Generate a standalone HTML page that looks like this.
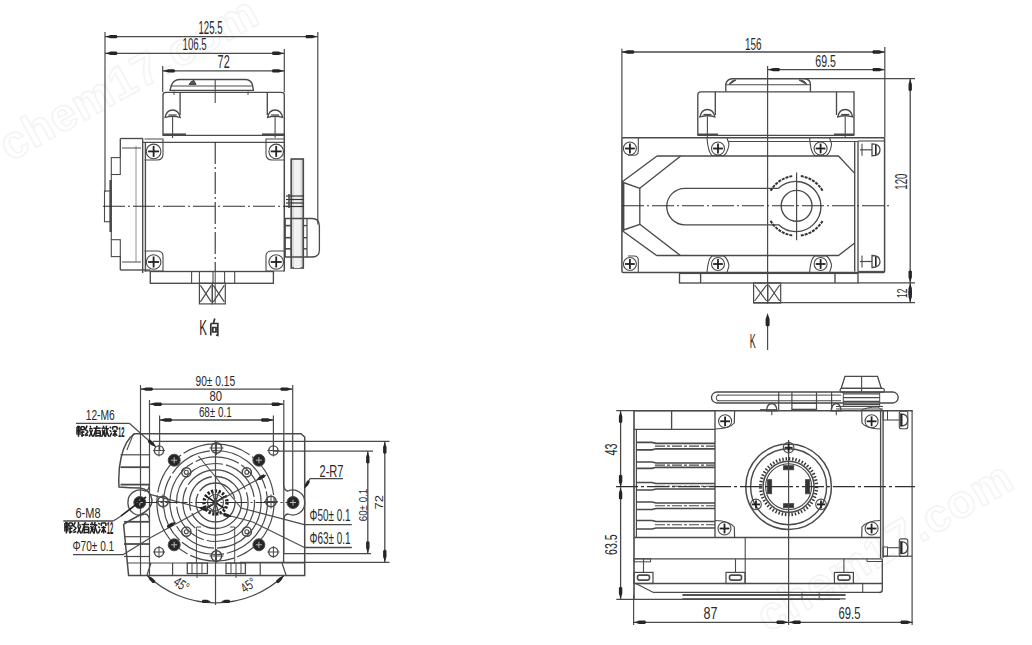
<!DOCTYPE html>
<html><head><meta charset="utf-8"><style>
html,body{margin:0;padding:0;background:#fff;}
svg{display:block;font-family:"Liberation Sans",sans-serif;}
#wrap{width:1032px;height:645px;overflow:hidden;background:#fff;}
</style></head><body><div id="wrap">
<svg width="1032" height="645" viewBox="0 0 1032 645">
<rect width="1032" height="645" fill="#fff"/>
<text transform="translate(10,162) rotate(-29)" font-size="46" font-weight="bold" fill="none" stroke="#f3f3f3" stroke-width="1.4" letter-spacing="1">chem17.com</text>
<text transform="translate(768,633) rotate(-30.5)" font-size="46" font-weight="bold" fill="none" stroke="#f3f3f3" stroke-width="1.4" letter-spacing="1">chem17.com</text>
<line x1="105.0" y1="32.0" x2="105.0" y2="192.0" stroke="#4a4a4a" stroke-width="1.2" />
<line x1="317.8" y1="32.0" x2="317.8" y2="224.6" stroke="#4a4a4a" stroke-width="1.2" />
<line x1="284.3" y1="49.0" x2="284.3" y2="92.0" stroke="#4a4a4a" stroke-width="1.2" />
<line x1="162.7" y1="66.0" x2="162.7" y2="92.0" stroke="#4a4a4a" stroke-width="1.2" />
<line x1="105.0" y1="36.6" x2="317.8" y2="36.6" stroke="#4a4a4a" stroke-width="1.3" />
<polygon points="105.0,36.6 108.3,35.7 110.5,34.9 116.5,34.9 117.7,36.6 116.5,38.3 110.5,38.3 108.3,37.5" fill="#262626"/>
<polygon points="317.8,36.6 314.5,37.5 312.3,38.3 306.2,38.3 305.2,36.6 306.2,34.9 312.3,34.9 314.5,35.7" fill="#262626"/>
<text x="198.5" y="33.6" textLength="24.0" lengthAdjust="spacingAndGlyphs" font-size="17.6" fill="#2a2a2a">125.5</text>
<line x1="105.0" y1="53.3" x2="284.3" y2="53.3" stroke="#4a4a4a" stroke-width="1.3" />
<polygon points="105.0,53.3 108.3,52.4 110.5,51.6 116.5,51.6 117.7,53.3 116.5,55.0 110.5,55.0 108.3,54.2" fill="#262626"/>
<polygon points="284.3,53.3 281.0,54.2 278.8,55.0 272.8,55.0 271.7,53.3 272.8,51.6 278.8,51.6 281.0,52.4" fill="#262626"/>
<text x="182.5" y="50.4" textLength="24.2" lengthAdjust="spacingAndGlyphs" font-size="16.9" fill="#2a2a2a">106.5</text>
<line x1="162.7" y1="70.9" x2="284.3" y2="70.9" stroke="#4a4a4a" stroke-width="1.3" />
<polygon points="162.7,70.9 166.0,70.0 168.2,69.2 174.2,69.2 175.3,70.9 174.2,72.6 168.2,72.6 166.0,71.8" fill="#262626"/>
<polygon points="284.3,70.9 281.0,71.8 278.8,72.6 272.8,72.6 271.7,70.9 272.8,69.2 278.8,69.2 281.0,70.0" fill="#262626"/>
<text x="217.6" y="68.0" textLength="12.1" lengthAdjust="spacingAndGlyphs" font-size="17.5" fill="#2a2a2a">72</text>
<path d="M170,90.4 L171.5,85 Q174,79.5 180,79.5 L245,79.5 Q251,79.5 252.5,85 L253.4,90.4 Z" fill="none" stroke="#4a4a4a" stroke-width="1.35" />
<line x1="170.5" y1="86.0" x2="253.0" y2="86.0" stroke="#4a4a4a" stroke-width="1.1" />
<line x1="174.0" y1="91.5" x2="174.0" y2="95.0" stroke="#4a4a4a" stroke-width="1.0" />
<line x1="248.0" y1="91.5" x2="248.0" y2="95.0" stroke="#4a4a4a" stroke-width="1.0" />
<path d="M189,84.5 Q191,80.5 194,80.5 L196,84.5 Z" fill="#555" stroke="#4a4a4a" stroke-width="1.0" />
<line x1="215.2" y1="80.0" x2="215.2" y2="103.0" stroke="#4a4a4a" stroke-width="1.1" />
<path d="M163,136 L163,95 Q163,92.4 166,92.4 L281.5,92.4 Q284.3,92.4 284.3,95 L284.3,136" fill="none" stroke="#4a4a4a" stroke-width="1.35" />
<line x1="180.1" y1="92.4" x2="180.1" y2="115.0" stroke="#4a4a4a" stroke-width="1.35" />
<line x1="267.3" y1="92.4" x2="267.3" y2="115.0" stroke="#4a4a4a" stroke-width="1.35" />
<path d="M165.1,117.5 Q166.6,110.0 172.6,110.0 Q178.6,110.0 180.1,117.5 Q172.6,115.0 165.1,117.5 Z" fill="none" stroke="#4a4a4a" stroke-width="1.3" />
<line x1="168.6" y1="115.0" x2="176.6" y2="115.0" stroke="#4a4a4a" stroke-width="1.2" />
<line x1="172.6" y1="117.0" x2="172.6" y2="138.0" stroke="#4a4a4a" stroke-width="1.1" />
<path d="M267.6,117.5 Q269.1,110.0 275.1,110.0 Q281.1,110.0 282.6,117.5 Q275.1,115.0 267.6,117.5 Z" fill="none" stroke="#4a4a4a" stroke-width="1.3" />
<line x1="271.1" y1="115.0" x2="279.1" y2="115.0" stroke="#4a4a4a" stroke-width="1.2" />
<line x1="275.1" y1="117.0" x2="275.1" y2="138.0" stroke="#4a4a4a" stroke-width="1.1" />
<line x1="163.0" y1="135.3" x2="284.3" y2="135.3" stroke="#4a4a4a" stroke-width="1.35" />
<line x1="163.0" y1="134.3" x2="186.0" y2="134.3" stroke="#4a4a4a" stroke-width="1.8" />
<line x1="262.0" y1="134.3" x2="284.3" y2="134.3" stroke="#4a4a4a" stroke-width="1.8" />
<line x1="120.3" y1="138.5" x2="143.0" y2="138.5" stroke="#4a4a4a" stroke-width="1.35" />
<line x1="143.0" y1="142.3" x2="284.3" y2="142.3" stroke="#4a4a4a" stroke-width="1.35" />
<line x1="284.3" y1="135.3" x2="284.3" y2="271.5" stroke="#4a4a4a" stroke-width="1.5" />
<line x1="142.7" y1="138.5" x2="142.7" y2="273.0" stroke="#4a4a4a" stroke-width="1.35" />
<line x1="145.4" y1="142.3" x2="145.4" y2="271.5" stroke="#4a4a4a" stroke-width="1.35" />
<line x1="120.3" y1="138.5" x2="120.3" y2="157.6" stroke="#4a4a4a" stroke-width="1.35" />
<line x1="120.3" y1="256.0" x2="120.3" y2="270.0" stroke="#4a4a4a" stroke-width="1.35" />
<line x1="120.3" y1="270.0" x2="150.3" y2="270.0" stroke="#4a4a4a" stroke-width="1.35" />
<line x1="136.0" y1="146.0" x2="136.0" y2="262.0" stroke="#888" stroke-width="0.9" />
<line x1="122.0" y1="148.0" x2="141.0" y2="148.0" stroke="#4a4a4a" stroke-width="1.0" />
<line x1="122.0" y1="262.0" x2="141.0" y2="262.0" stroke="#4a4a4a" stroke-width="1.0" />
<rect x="111.3" y="157.6" width="9.0" height="16.9" rx="0" fill="none" stroke="#4a4a4a" stroke-width="1.1"/>
<rect x="111.3" y="239.7" width="9.0" height="16.9" rx="0" fill="none" stroke="#4a4a4a" stroke-width="1.1"/>
<line x1="111.3" y1="174.5" x2="111.3" y2="239.7" stroke="#4a4a4a" stroke-width="1.1" />
<rect x="104.5" y="191.0" width="5.8" height="30.7" rx="0" fill="none" stroke="#4a4a4a" stroke-width="1.1"/>
<line x1="110.6" y1="180.0" x2="110.6" y2="232.0" stroke="#4a4a4a" stroke-width="2.4" />
<line x1="103.0" y1="206.3" x2="292.0" y2="206.3" stroke="#303030" stroke-width="1.1" stroke-dasharray="22,3,2,3"/>
<line x1="215.2" y1="142.0" x2="215.2" y2="271.0" stroke="#303030" stroke-width="1.1" stroke-dasharray="22,3,2,3"/>
<line x1="215.2" y1="271.0" x2="215.2" y2="304.0" stroke="#4a4a4a" stroke-width="1.0" />
<circle cx="153.6" cy="151.4" r="7.3" fill="none" stroke="#4a4a4a" stroke-width="1.1"/>
<line x1="148.1" y1="151.4" x2="159.1" y2="151.4" stroke="#222" stroke-width="1.8" />
<line x1="153.6" y1="145.9" x2="153.6" y2="156.9" stroke="#222" stroke-width="1.8" />
<circle cx="276.2" cy="151.4" r="7.3" fill="none" stroke="#4a4a4a" stroke-width="1.1"/>
<line x1="270.7" y1="151.4" x2="281.7" y2="151.4" stroke="#222" stroke-width="1.8" />
<line x1="276.2" y1="145.9" x2="276.2" y2="156.9" stroke="#222" stroke-width="1.8" />
<circle cx="153.6" cy="262.0" r="7.3" fill="none" stroke="#4a4a4a" stroke-width="1.1"/>
<line x1="148.1" y1="262.0" x2="159.1" y2="262.0" stroke="#222" stroke-width="1.8" />
<line x1="153.6" y1="256.5" x2="153.6" y2="267.5" stroke="#222" stroke-width="1.8" />
<circle cx="276.2" cy="262.0" r="7.3" fill="none" stroke="#4a4a4a" stroke-width="1.1"/>
<line x1="270.7" y1="262.0" x2="281.7" y2="262.0" stroke="#222" stroke-width="1.8" />
<line x1="276.2" y1="256.5" x2="276.2" y2="267.5" stroke="#222" stroke-width="1.8" />
<path d="M144.5,139 L163,139 L163,154 Q163,160 157,160 L144.5,160" fill="none" stroke="#4a4a4a" stroke-width="1.1" />
<path d="M284,139 L266,139 L266,154 Q266,160 272,160 L284,160" fill="none" stroke="#4a4a4a" stroke-width="1.1" />
<path d="M144.5,271 L163,271 L163,256 Q163,251 157,251 L144.5,251" fill="none" stroke="#4a4a4a" stroke-width="1.1" />
<path d="M284,271 L266,271 L266,256 Q266,251 272,251 L284,251" fill="none" stroke="#4a4a4a" stroke-width="1.1" />
<rect x="291.2" y="159.0" width="12.1" height="109.0" rx="0" fill="#d8d8d8" stroke="#4a4a4a" stroke-width="1.6"/>
<rect x="294.0" y="160.0" width="6.5" height="107.0" rx="0" fill="#f2f2f2" stroke="none" stroke-width="0"/>
<line x1="286.0" y1="196.0" x2="303.5" y2="196.0" stroke="#333" stroke-width="1.2" />
<line x1="286.0" y1="199.5" x2="303.5" y2="199.5" stroke="#333" stroke-width="1.2" />
<line x1="286.0" y1="203.0" x2="303.5" y2="203.0" stroke="#333" stroke-width="1.2" />
<line x1="286.0" y1="206.5" x2="303.5" y2="206.5" stroke="#333" stroke-width="1.2" />
<line x1="289.0" y1="194.0" x2="289.0" y2="208.0" stroke="#4a4a4a" stroke-width="1.6" />
<path d="M285,218.5 L312,218.5 Q319.4,218.5 319.4,226 L319.4,250 Q319.4,257 312,257 L285,257 Z" fill="none" stroke="#4a4a4a" stroke-width="1.3" />
<line x1="285.0" y1="218.5" x2="285.0" y2="257.0" stroke="#4a4a4a" stroke-width="1.3" />
<line x1="291.2" y1="218.5" x2="291.2" y2="257.0" stroke="#4a4a4a" stroke-width="1.2" />
<line x1="303.3" y1="218.5" x2="303.3" y2="257.0" stroke="#4a4a4a" stroke-width="1.2" />
<line x1="307.0" y1="218.5" x2="307.0" y2="257.0" stroke="#4a4a4a" stroke-width="1.2" />
<line x1="285.0" y1="225.6" x2="291.2" y2="225.6" stroke="#4a4a4a" stroke-width="1.6" />
<line x1="303.3" y1="225.6" x2="307.0" y2="225.6" stroke="#4a4a4a" stroke-width="1.4" />
<line x1="285.0" y1="237.7" x2="291.2" y2="237.7" stroke="#4a4a4a" stroke-width="1.6" />
<line x1="303.3" y1="237.7" x2="307.0" y2="237.7" stroke="#4a4a4a" stroke-width="1.4" />
<line x1="285.0" y1="248.8" x2="291.2" y2="248.8" stroke="#4a4a4a" stroke-width="1.6" />
<line x1="303.3" y1="248.8" x2="307.0" y2="248.8" stroke="#4a4a4a" stroke-width="1.4" />
<rect x="294.0" y="258.0" width="6.5" height="10.0" rx="0" fill="#f2f2f2" stroke="none" stroke-width="0"/>
<rect x="150.3" y="271.5" width="123.1" height="11.8" rx="0" fill="none" stroke="#4a4a4a" stroke-width="1.35"/>
<line x1="191.6" y1="271.5" x2="191.6" y2="283.3" stroke="#4a4a4a" stroke-width="1.1" />
<line x1="199.4" y1="271.5" x2="199.4" y2="283.3" stroke="#4a4a4a" stroke-width="1.1" />
<line x1="213.0" y1="271.5" x2="213.0" y2="283.3" stroke="#4a4a4a" stroke-width="1.1" />
<line x1="224.6" y1="271.5" x2="224.6" y2="283.3" stroke="#4a4a4a" stroke-width="1.1" />
<line x1="234.7" y1="271.5" x2="234.7" y2="283.3" stroke="#4a4a4a" stroke-width="1.1" />
<rect x="199.4" y="283.3" width="12.9" height="20.6" rx="0" fill="none" stroke="#4a4a4a" stroke-width="1.2"/>
<line x1="200.4" y1="285.3" x2="211.3" y2="301.9" stroke="#4a4a4a" stroke-width="1.2" />
<line x1="200.4" y1="301.9" x2="211.3" y2="285.3" stroke="#4a4a4a" stroke-width="1.2" />
<rect x="212.3" y="283.3" width="13.0" height="20.6" rx="0" fill="none" stroke="#4a4a4a" stroke-width="1.2"/>
<line x1="213.3" y1="285.3" x2="224.3" y2="301.9" stroke="#4a4a4a" stroke-width="1.2" />
<line x1="213.3" y1="301.9" x2="224.3" y2="285.3" stroke="#4a4a4a" stroke-width="1.2" />
<text x="199.3" y="335.3" textLength="7.7" lengthAdjust="spacingAndGlyphs" font-size="21.4" fill="#2a2a2a">K</text>
<path d="M210.8,323.5 L210.8,335.5 M210.8,323.5 L217.8,323.5 L217.8,335.5 L216,335 M212.8,327.5 L216,327.5 L216,332 L212.8,332 Z M214.8,318.5 L213.3,323.5" fill="none" stroke="#333" stroke-width="1.7" />
<line x1="621.9" y1="48.8" x2="621.9" y2="138.0" stroke="#4a4a4a" stroke-width="1.2" />
<line x1="884.8" y1="47.0" x2="884.8" y2="138.0" stroke="#4a4a4a" stroke-width="1.2" />
<line x1="621.9" y1="52.0" x2="884.8" y2="52.0" stroke="#4a4a4a" stroke-width="1.3" />
<polygon points="621.9,52.0 625.2,51.1 627.4,50.3 633.4,50.3 634.5,52.0 633.4,53.7 627.4,53.7 625.2,52.9" fill="#262626"/>
<polygon points="884.8,52.0 881.5,52.9 879.3,53.7 873.2,53.7 872.1,52.0 873.2,50.3 879.3,50.3 881.5,51.1" fill="#262626"/>
<text x="745.0" y="49.8" textLength="16.5" lengthAdjust="spacingAndGlyphs" font-size="16.3" fill="#2a2a2a">156</text>
<line x1="767.6" y1="69.6" x2="884.8" y2="69.6" stroke="#4a4a4a" stroke-width="1.3" />
<polygon points="767.6,69.6 770.9,68.7 773.1,67.9 779.1,67.9 780.2,69.6 779.1,71.3 773.1,71.3 770.9,70.5" fill="#262626"/>
<polygon points="884.8,69.6 881.5,70.5 879.3,71.3 873.2,71.3 872.1,69.6 873.2,67.9 879.3,67.9 881.5,68.7" fill="#262626"/>
<text x="815.3" y="67.2" textLength="20.6" lengthAdjust="spacingAndGlyphs" font-size="17.0" fill="#2a2a2a">69.5</text>
<line x1="767.6" y1="66.0" x2="767.6" y2="303.0" stroke="#4a4a4a" stroke-width="1.2" />
<path d="M725.8,91.8 L725.8,84 Q727,78.7 733,78.7 L804,78.7 Q810,78.7 810.4,84 L810.4,91.8" fill="none" stroke="#4a4a4a" stroke-width="1.35" />
<line x1="725.8" y1="84.8" x2="810.4" y2="84.8" stroke="#4a4a4a" stroke-width="1.1" />
<path d="M729,84.8 Q731,80 736,80 Z M799,80 Q805,80 807,84.8 Z" fill="#555" stroke="#4a4a4a" stroke-width="1.0" />
<line x1="804.0" y1="78.7" x2="915.0" y2="78.7" stroke="#4a4a4a" stroke-width="1.2" />
<line x1="910.2" y1="78.7" x2="910.2" y2="282.8" stroke="#4a4a4a" stroke-width="1.3" />
<polygon points="910.2,78.7 911.1,82.0 911.9,84.2 911.9,90.2 910.2,91.3 908.5,90.2 908.5,84.2 909.3,82.0" fill="#262626"/>
<polygon points="910.2,282.8 909.3,279.5 908.5,277.3 908.5,271.2 910.2,270.2 911.9,271.2 911.9,277.3 911.1,279.5" fill="#262626"/>
<text transform="translate(907.2,189.7) rotate(-90)" x="0" y="0" textLength="16.1" lengthAdjust="spacingAndGlyphs" font-size="15.6" fill="#2a2a2a">120</text>
<path d="M697.8,135.4 L697.8,95 Q697.8,91.8 701,91.8 L854,91.8 L854,135.4" fill="none" stroke="#4a4a4a" stroke-width="1.35" />
<line x1="715.3" y1="91.8" x2="715.3" y2="115.0" stroke="#4a4a4a" stroke-width="1.35" />
<line x1="836.5" y1="91.8" x2="836.5" y2="115.0" stroke="#4a4a4a" stroke-width="1.35" />
<path d="M699.9,117 Q701.4,109.5 707.4,109.5 Q713.4,109.5 714.9,117 Q707.4,114.5 699.9,117 Z" fill="none" stroke="#4a4a4a" stroke-width="1.3" />
<line x1="703.4" y1="114.5" x2="711.4" y2="114.5" stroke="#4a4a4a" stroke-width="1.2" />
<line x1="707.4" y1="116.5" x2="707.4" y2="137.0" stroke="#4a4a4a" stroke-width="1.1" />
<path d="M837.7,117 Q839.2,109.5 845.2,109.5 Q851.2,109.5 852.7,117 Q845.2,114.5 837.7,117 Z" fill="none" stroke="#4a4a4a" stroke-width="1.3" />
<line x1="841.2" y1="114.5" x2="849.2" y2="114.5" stroke="#4a4a4a" stroke-width="1.2" />
<line x1="845.2" y1="116.5" x2="845.2" y2="137.0" stroke="#4a4a4a" stroke-width="1.1" />
<line x1="697.8" y1="135.4" x2="854.0" y2="135.4" stroke="#4a4a4a" stroke-width="1.35" />
<line x1="697.8" y1="134.4" x2="718.0" y2="134.4" stroke="#4a4a4a" stroke-width="1.8" />
<line x1="834.0" y1="134.4" x2="854.0" y2="134.4" stroke="#4a4a4a" stroke-width="1.8" />
<rect x="621.9" y="137.8" width="262.7" height="134.6" rx="1.5" fill="none" stroke="#4a4a4a" stroke-width="1.5"/>
<line x1="728.0" y1="141.5" x2="858.0" y2="141.5" stroke="#4a4a4a" stroke-width="1.1" />
<polyline points="657.0,156.0 838.5,156.0 854.7,173.4" fill="none" stroke="#4a4a4a" stroke-width="1.35" stroke-linejoin="round"/>
<polyline points="657.0,255.5 838.5,255.5 854.7,243.0" fill="none" stroke="#4a4a4a" stroke-width="1.35" stroke-linejoin="round"/>
<line x1="854.7" y1="141.5" x2="854.7" y2="271.4" stroke="#4a4a4a" stroke-width="1.35" />
<line x1="858.0" y1="141.5" x2="858.0" y2="271.4" stroke="#4a4a4a" stroke-width="1.35" />
<line x1="858.0" y1="141.0" x2="884.6" y2="141.0" stroke="#4a4a4a" stroke-width="1.1" />
<line x1="858.0" y1="271.4" x2="884.6" y2="271.4" stroke="#4a4a4a" stroke-width="1.1" />
<line x1="860.0" y1="149.8" x2="872.0" y2="149.8" stroke="#4a4a4a" stroke-width="1.2" />
<line x1="862.0" y1="143.8" x2="862.0" y2="155.8" stroke="#4a4a4a" stroke-width="1.1" />
<path d="M872,143.8 Q880,143.8 880,149.8 Q880,155.8 872,155.8 Z" fill="none" stroke="#4a4a4a" stroke-width="1.3" />
<line x1="875.8" y1="144.8" x2="875.8" y2="154.8" stroke="#222" stroke-width="1.6" />
<line x1="860.0" y1="261.5" x2="872.0" y2="261.5" stroke="#4a4a4a" stroke-width="1.2" />
<line x1="862.0" y1="255.5" x2="862.0" y2="267.5" stroke="#4a4a4a" stroke-width="1.1" />
<path d="M872,255.5 Q880,255.5 880,261.5 Q880,267.5 872,267.5 Z" fill="none" stroke="#4a4a4a" stroke-width="1.3" />
<line x1="875.8" y1="256.5" x2="875.8" y2="266.5" stroke="#222" stroke-width="1.6" />
<polyline points="622.0,182.0 657.0,156.0" fill="none" stroke="#4a4a4a" stroke-width="1.35" stroke-linejoin="round"/>
<polyline points="622.0,230.5 657.0,255.8" fill="none" stroke="#4a4a4a" stroke-width="1.35" stroke-linejoin="round"/>
<polyline points="622.0,182.0 639.8,188.3 680.7,156.0" fill="none" stroke="#4a4a4a" stroke-width="1.35" stroke-linejoin="round"/>
<polyline points="622.0,230.5 639.8,224.3 680.7,255.8" fill="none" stroke="#4a4a4a" stroke-width="1.35" stroke-linejoin="round"/>
<line x1="639.8" y1="188.3" x2="639.8" y2="224.3" stroke="#4a4a4a" stroke-width="1.35" />
<line x1="623.2" y1="182.0" x2="623.2" y2="230.5" stroke="#4a4a4a" stroke-width="2.4" />
<path d="M778.6,188.3 L685,188.3 A18.2,18.2 0 0 0 685,224.8 L778.6,224.8 A25.1,25.1 0 1 0 778.6,188.3" fill="none" stroke="#4a4a4a" stroke-width="1.35" />
<line x1="622.0" y1="205.8" x2="890.0" y2="205.8" stroke="#303030" stroke-width="1.1" stroke-dasharray="22,3,2,3"/>
<circle cx="796.6" cy="205.8" r="15.4" fill="none" stroke="#4a4a4a" stroke-width="1.35"/>
<path d="M770.6,190.8 A30,30 0 0 1 792.4,176.1" fill="none" stroke="#333" stroke-width="2.0" stroke-dasharray="3,1"/>
<path d="M800.8,176.1 A30,30 0 0 1 822.6,190.8" fill="none" stroke="#333" stroke-width="2.0" stroke-dasharray="3,1"/>
<path d="M770.6,220.8 A30,30 0 0 0 792.4,235.5" fill="none" stroke="#333" stroke-width="2.0" stroke-dasharray="3,1"/>
<path d="M800.8,235.5 A30,30 0 0 0 822.6,220.8" fill="none" stroke="#333" stroke-width="2.0" stroke-dasharray="3,1"/>
<line x1="796.6" y1="172.6" x2="796.6" y2="240.3" stroke="#4a4a4a" stroke-width="1.2" />
<circle cx="629.9" cy="148.5" r="6.5" fill="none" stroke="#4a4a4a" stroke-width="1.1"/>
<line x1="625.0" y1="148.5" x2="634.8" y2="148.5" stroke="#222" stroke-width="1.8" />
<line x1="629.9" y1="143.6" x2="629.9" y2="153.4" stroke="#222" stroke-width="1.8" />
<circle cx="718.0" cy="148.5" r="6.5" fill="none" stroke="#4a4a4a" stroke-width="1.1"/>
<line x1="713.1" y1="148.5" x2="722.9" y2="148.5" stroke="#222" stroke-width="1.8" />
<line x1="718.0" y1="143.6" x2="718.0" y2="153.4" stroke="#222" stroke-width="1.8" />
<circle cx="820.6" cy="148.5" r="6.5" fill="none" stroke="#4a4a4a" stroke-width="1.1"/>
<line x1="815.7" y1="148.5" x2="825.5" y2="148.5" stroke="#222" stroke-width="1.8" />
<line x1="820.6" y1="143.6" x2="820.6" y2="153.4" stroke="#222" stroke-width="1.8" />
<circle cx="629.9" cy="264.0" r="6.5" fill="none" stroke="#4a4a4a" stroke-width="1.1"/>
<line x1="625.0" y1="264.0" x2="634.8" y2="264.0" stroke="#222" stroke-width="1.8" />
<line x1="629.9" y1="259.1" x2="629.9" y2="268.9" stroke="#222" stroke-width="1.8" />
<circle cx="718.0" cy="264.0" r="6.5" fill="none" stroke="#4a4a4a" stroke-width="1.1"/>
<line x1="713.1" y1="264.0" x2="722.9" y2="264.0" stroke="#222" stroke-width="1.8" />
<line x1="718.0" y1="259.1" x2="718.0" y2="268.9" stroke="#222" stroke-width="1.8" />
<circle cx="820.6" cy="264.0" r="6.5" fill="none" stroke="#4a4a4a" stroke-width="1.1"/>
<line x1="815.7" y1="264.0" x2="825.5" y2="264.0" stroke="#222" stroke-width="1.8" />
<line x1="820.6" y1="259.1" x2="820.6" y2="268.9" stroke="#222" stroke-width="1.8" />
<path d="M707,138 Q708,152 712,155.5 L724,155.5 Q728,152 729,144 L727,138" fill="none" stroke="#4a4a4a" stroke-width="1.1" />
<path d="M707,272.4 Q708,259 712,256 L724,256 Q728,259 729,266 L727,272.4" fill="none" stroke="#4a4a4a" stroke-width="1.1" />
<path d="M809.6,138 Q810.6,152 814.6,155.5 L826.6,155.5 Q830.6,152 831.6,144 L829.6,138" fill="none" stroke="#4a4a4a" stroke-width="1.1" />
<path d="M809.6,272.4 Q810.6,259 814.6,256 L826.6,256 Q830.6,259 831.6,266 L829.6,272.4" fill="none" stroke="#4a4a4a" stroke-width="1.1" />
<path d="M638.3,138 L638.3,151 Q638.3,155.2 634,155.2 L628,155.2" fill="none" stroke="#4a4a4a" stroke-width="1.1" />
<path d="M638.3,272.4 L638.3,260 Q638.3,256 634,256 L628,256" fill="none" stroke="#4a4a4a" stroke-width="1.1" />
<rect x="679.5" y="273.4" width="178.5" height="9.6" rx="0" fill="none" stroke="#4a4a4a" stroke-width="1.35"/>
<line x1="700.6" y1="273.4" x2="700.6" y2="283.0" stroke="#4a4a4a" stroke-width="1.35" />
<line x1="835.0" y1="273.4" x2="835.0" y2="283.0" stroke="#4a4a4a" stroke-width="1.35" />
<line x1="858.0" y1="282.8" x2="915.0" y2="282.8" stroke="#4a4a4a" stroke-width="1.2" />
<rect x="753.6" y="283.0" width="14.0" height="20.0" rx="0" fill="none" stroke="#4a4a4a" stroke-width="1.2"/>
<line x1="754.6" y1="285.0" x2="766.6" y2="301.0" stroke="#4a4a4a" stroke-width="1.2" />
<line x1="754.6" y1="301.0" x2="766.6" y2="285.0" stroke="#4a4a4a" stroke-width="1.2" />
<rect x="767.6" y="283.0" width="13.1" height="20.0" rx="0" fill="none" stroke="#4a4a4a" stroke-width="1.2"/>
<line x1="768.6" y1="285.0" x2="779.7" y2="301.0" stroke="#4a4a4a" stroke-width="1.2" />
<line x1="768.6" y1="301.0" x2="779.7" y2="285.0" stroke="#4a4a4a" stroke-width="1.2" />
<line x1="753.6" y1="302.6" x2="915.0" y2="302.6" stroke="#4a4a4a" stroke-width="1.2" />
<line x1="910.2" y1="282.8" x2="910.2" y2="302.6" stroke="#4a4a4a" stroke-width="1.3" />
<polygon points="910.2,282.8 911.1,286.1 911.9,288.3 911.9,294.4 910.2,295.4 908.5,294.4 908.5,288.3 909.3,286.1" fill="#262626"/>
<polygon points="910.2,302.6 909.3,299.3 908.5,297.1 908.5,291.1 910.2,290.0 911.9,291.1 911.9,297.1 911.1,299.3" fill="#262626"/>
<text transform="translate(907.0,298.0) rotate(-90)" x="0" y="0" textLength="9.5" lengthAdjust="spacingAndGlyphs" font-size="15.4" fill="#2a2a2a">12</text>
<line x1="767.6" y1="318.0" x2="767.6" y2="350.0" stroke="#4a4a4a" stroke-width="1.2" />
<polygon points="767.6,313.0 768.7,316.6 769.6,319.0 769.6,325.6 767.6,326.8 765.6,325.6 765.6,319.0 766.5,316.6" fill="#262626"/>
<text x="749.8" y="348.2" textLength="6.0" lengthAdjust="spacingAndGlyphs" font-size="19.8" fill="#2a2a2a">K</text>
<line x1="140.5" y1="385.0" x2="140.5" y2="575.5" stroke="#4a4a4a" stroke-width="1.2" />
<line x1="292.7" y1="385.0" x2="292.7" y2="503.0" stroke="#4a4a4a" stroke-width="1.2" />
<line x1="140.5" y1="389.1" x2="292.7" y2="389.1" stroke="#4a4a4a" stroke-width="1.3" />
<polygon points="140.5,389.1 143.8,388.2 146.0,387.4 152.1,387.4 153.2,389.1 152.1,390.8 146.0,390.8 143.8,390.0" fill="#262626"/>
<polygon points="292.7,389.1 289.4,390.0 287.2,390.8 281.1,390.8 280.1,389.1 281.1,387.4 287.2,387.4 289.4,388.2" fill="#262626"/>
<text x="195.5" y="386.0" textLength="39.7" lengthAdjust="spacingAndGlyphs" font-size="14.7" fill="#2a2a2a">90± 0.15</text>
<line x1="149.5" y1="400.0" x2="149.5" y2="575.5" stroke="#4a4a4a" stroke-width="1.2" />
<line x1="283.8" y1="400.0" x2="283.8" y2="553.0" stroke="#4a4a4a" stroke-width="1.2" />
<line x1="149.5" y1="404.2" x2="283.8" y2="404.2" stroke="#4a4a4a" stroke-width="1.3" />
<polygon points="149.5,404.2 152.8,403.3 155.0,402.5 161.1,402.5 162.2,404.2 161.1,405.9 155.0,405.9 152.8,405.1" fill="#262626"/>
<polygon points="283.8,404.2 280.5,405.1 278.3,405.9 272.2,405.9 271.2,404.2 272.2,402.5 278.3,402.5 280.5,403.3" fill="#262626"/>
<text x="209.5" y="400.8" textLength="12.6" lengthAdjust="spacingAndGlyphs" font-size="14.7" fill="#2a2a2a">80</text>
<line x1="159.6" y1="415.6" x2="159.6" y2="451.0" stroke="#4a4a4a" stroke-width="1.2" />
<line x1="273.4" y1="415.6" x2="273.4" y2="451.0" stroke="#4a4a4a" stroke-width="1.2" />
<line x1="159.6" y1="420.0" x2="273.4" y2="420.0" stroke="#4a4a4a" stroke-width="1.3" />
<polygon points="159.6,420.0 162.9,419.1 165.1,418.3 171.2,418.3 172.2,420.0 171.2,421.7 165.1,421.7 162.9,420.9" fill="#262626"/>
<polygon points="273.4,420.0 270.1,420.9 267.9,421.7 261.8,421.7 260.8,420.0 261.8,418.3 267.9,418.3 270.1,419.1" fill="#262626"/>
<text x="198.9" y="416.5" textLength="32.8" lengthAdjust="spacingAndGlyphs" font-size="14.7" fill="#2a2a2a">68± 0.1</text>
<text x="85.7" y="420.3" textLength="29.1" lengthAdjust="spacingAndGlyphs" font-size="15.5" fill="#2a2a2a">12-M6</text>
<line x1="76.0" y1="423.3" x2="129.3" y2="423.3" stroke="#4a4a4a" stroke-width="1.3" />
<line x1="129.3" y1="423.3" x2="156.0" y2="447.0" stroke="#4a4a4a" stroke-width="1.2" />
<polygon points="156.0,447.0 153.4,445.9 151.5,445.3 147.8,441.9 148.3,440.1 150.1,439.4 153.8,442.7 154.6,444.5" fill="#262626"/>
<line x1="77.0" y1="426.7" x2="80.0" y2="426.7" stroke="#202020" stroke-width="1.5" />
<line x1="77.0" y1="426.7" x2="77.0" y2="434.8" stroke="#202020" stroke-width="1.5" />
<line x1="80.0" y1="426.7" x2="80.0" y2="434.8" stroke="#202020" stroke-width="1.5" />
<line x1="77.0" y1="430.7" x2="80.0" y2="430.7" stroke="#202020" stroke-width="1.5" />
<line x1="78.5" y1="425.7" x2="78.5" y2="436.8" stroke="#202020" stroke-width="1.5" />
<line x1="81.0" y1="426.7" x2="84.4" y2="426.7" stroke="#202020" stroke-width="1.5" />
<line x1="81.0" y1="429.7" x2="84.4" y2="429.7" stroke="#202020" stroke-width="1.5" />
<line x1="81.0" y1="426.7" x2="81.0" y2="429.7" stroke="#202020" stroke-width="1.5" />
<line x1="84.4" y1="426.7" x2="84.4" y2="429.7" stroke="#202020" stroke-width="1.5" />
<line x1="81.0" y1="432.7" x2="84.4" y2="431.7" stroke="#202020" stroke-width="1.5" />
<line x1="82.2" y1="430.7" x2="82.2" y2="436.8" stroke="#202020" stroke-width="1.5" />
<line x1="81.0" y1="435.8" x2="84.4" y2="434.8" stroke="#202020" stroke-width="1.5" />
<line x1="87.2" y1="425.7" x2="85.2" y2="429.7" stroke="#202020" stroke-width="1.5" />
<line x1="85.2" y1="429.7" x2="88.2" y2="431.7" stroke="#202020" stroke-width="1.5" />
<line x1="88.2" y1="431.7" x2="85.2" y2="434.7" stroke="#202020" stroke-width="1.5" />
<line x1="85.2" y1="435.8" x2="88.2" y2="434.8" stroke="#202020" stroke-width="1.5" />
<line x1="90.4" y1="425.7" x2="90.4" y2="427.7" stroke="#202020" stroke-width="1.5" />
<line x1="89.2" y1="428.7" x2="92.6" y2="428.7" stroke="#202020" stroke-width="1.5" />
<line x1="89.7" y1="429.7" x2="92.6" y2="436.8" stroke="#202020" stroke-width="1.5" />
<line x1="92.6" y1="429.7" x2="89.2" y2="436.8" stroke="#202020" stroke-width="1.5" />
<line x1="93.4" y1="428.2" x2="100.7" y2="428.2" stroke="#202020" stroke-width="1.5" />
<line x1="97.1" y1="425.7" x2="93.4" y2="436.8" stroke="#202020" stroke-width="1.5" />
<line x1="95.9" y1="430.7" x2="100.2" y2="430.7" stroke="#202020" stroke-width="1.5" />
<line x1="95.9" y1="430.7" x2="95.9" y2="436.8" stroke="#202020" stroke-width="1.5" />
<line x1="100.2" y1="430.7" x2="100.2" y2="436.8" stroke="#202020" stroke-width="1.5" />
<line x1="95.9" y1="433.2" x2="100.2" y2="433.2" stroke="#202020" stroke-width="1.5" />
<line x1="95.9" y1="435.8" x2="100.2" y2="435.8" stroke="#202020" stroke-width="1.5" />
<line x1="103.5" y1="425.7" x2="103.5" y2="427.7" stroke="#202020" stroke-width="1.5" />
<line x1="101.5" y1="428.2" x2="105.5" y2="428.2" stroke="#202020" stroke-width="1.5" />
<line x1="102.0" y1="429.7" x2="105.0" y2="433.7" stroke="#202020" stroke-width="1.5" />
<line x1="105.0" y1="429.7" x2="101.5" y2="436.8" stroke="#202020" stroke-width="1.5" />
<line x1="102.5" y1="431.7" x2="105.5" y2="436.8" stroke="#202020" stroke-width="1.5" />
<line x1="106.5" y1="425.7" x2="106.0" y2="429.7" stroke="#202020" stroke-width="1.5" />
<line x1="106.0" y1="428.7" x2="108.9" y2="428.7" stroke="#202020" stroke-width="1.5" />
<line x1="107.2" y1="428.7" x2="105.5" y2="436.8" stroke="#202020" stroke-width="1.5" />
<line x1="106.5" y1="430.7" x2="108.9" y2="436.8" stroke="#202020" stroke-width="1.5" />
<line x1="109.7" y1="426.7" x2="111.2" y2="428.2" stroke="#202020" stroke-width="1.5" />
<line x1="109.7" y1="430.2" x2="111.2" y2="431.7" stroke="#202020" stroke-width="1.5" />
<line x1="109.7" y1="436.8" x2="111.7" y2="432.7" stroke="#202020" stroke-width="1.5" />
<line x1="112.7" y1="426.7" x2="117.1" y2="426.7" stroke="#202020" stroke-width="1.5" />
<line x1="112.7" y1="426.7" x2="112.7" y2="429.7" stroke="#202020" stroke-width="1.5" />
<line x1="117.1" y1="426.7" x2="117.1" y2="429.7" stroke="#202020" stroke-width="1.5" />
<line x1="112.7" y1="431.2" x2="117.1" y2="431.2" stroke="#202020" stroke-width="1.5" />
<line x1="114.9" y1="429.7" x2="114.9" y2="436.8" stroke="#202020" stroke-width="1.5" />
<line x1="112.7" y1="435.8" x2="114.9" y2="432.7" stroke="#202020" stroke-width="1.5" />
<line x1="117.1" y1="435.8" x2="114.9" y2="432.7" stroke="#202020" stroke-width="1.5" />
<text x="117.9" y="436.8" textLength="6.5" lengthAdjust="spacingAndGlyphs" font-size="15.5" fill="#222" font-weight="bold">12</text>
<path d="M134.8,433.7 L301,433.7 L304.7,437 L304.7,575.5 L128.6,575.5 L123.6,524.3 Q132,519 140,515 Q152,509 152,500 Q150,489 140,488 Q130,488 119,487 Q118,470 121.2,457.3 Q125,440 134.8,433.7 Z" fill="none" stroke="#4a4a4a" stroke-width="1.5" />
<path d="M283.6,441.4 L283.6,484 Q284,491 288,491 A12,12 0 0 1 304.7,502 M283.6,521 Q284,514 288,514 A12,12 0 0 0 304.7,502 M283.6,521 L283.6,563" fill="none" stroke="#4a4a4a" stroke-width="1.3" />
<path d="M149.5,484 Q149,491 145,491 A12,12 0 0 0 128,502 M149.5,521 Q149,514 145,514 A12,12 0 0 1 128,502" fill="none" stroke="#4a4a4a" stroke-width="1.3" />
<line x1="152.7" y1="441.4" x2="389.5" y2="441.4" stroke="#4a4a4a" stroke-width="1.2" />
<line x1="273.4" y1="451.2" x2="373.0" y2="451.2" stroke="#4a4a4a" stroke-width="1.2" />
<line x1="120.5" y1="454.8" x2="149.5" y2="454.8" stroke="#4a4a4a" stroke-width="1.2" />
<line x1="120.5" y1="467.2" x2="149.5" y2="467.2" stroke="#4a4a4a" stroke-width="1.8" />
<line x1="120.5" y1="484.6" x2="149.5" y2="484.6" stroke="#4a4a4a" stroke-width="1.8" />
<line x1="124.0" y1="521.8" x2="149.5" y2="521.8" stroke="#4a4a4a" stroke-width="1.8" />
<line x1="124.0" y1="536.7" x2="149.5" y2="536.7" stroke="#4a4a4a" stroke-width="1.2" />
<line x1="124.0" y1="544.0" x2="149.5" y2="544.0" stroke="#4a4a4a" stroke-width="1.8" />
<line x1="124.0" y1="556.5" x2="149.5" y2="556.5" stroke="#4a4a4a" stroke-width="1.2" />
<line x1="133.6" y1="433.4" x2="126.9" y2="450.0" stroke="#4a4a4a" stroke-width="1.1" />
<text x="319.5" y="477.0" textLength="24.0" lengthAdjust="spacingAndGlyphs" font-size="16.2" fill="#2a2a2a">2-R7</text>
<line x1="310.0" y1="478.6" x2="343.0" y2="478.6" stroke="#4a4a4a" stroke-width="1.2" />
<line x1="310.0" y1="478.6" x2="304.4" y2="488.5" stroke="#4a4a4a" stroke-width="1.2" />
<polygon points="304.4,488.5 304.9,486.0 305.1,484.3 307.3,480.5 309.0,480.5 309.9,482.0 307.7,485.8 306.3,486.8" fill="#262626"/>
<circle cx="215.5" cy="502.5" r="58.6" fill="none" stroke="#4a4a4a" stroke-width="1.2" stroke-dasharray="70,3,45,3"/>
<circle cx="215.5" cy="502.5" r="52.0" fill="none" stroke="#4a4a4a" stroke-width="1.2" stroke-dasharray="70,3,45,3"/>
<circle cx="215.5" cy="502.5" r="45.6" fill="none" stroke="#4a4a4a" stroke-width="1.2" stroke-dasharray="70,3,45,3"/>
<circle cx="215.5" cy="502.5" r="39.0" fill="none" stroke="#4a4a4a" stroke-width="1.2" stroke-dasharray="70,3,45,3"/>
<circle cx="215.5" cy="502.5" r="32.6" fill="none" stroke="#4a4a4a" stroke-width="1.2" stroke-dasharray="70,3,45,3"/>
<circle cx="215.5" cy="502.5" r="26.0" fill="none" stroke="#4a4a4a" stroke-width="1.3" stroke-dasharray="70,3,45,3"/>
<circle cx="215.5" cy="502.5" r="19.5" fill="none" stroke="#4a4a4a" stroke-width="1.3" stroke-dasharray="70,3,45,3"/>
<circle cx="215.5" cy="502.5" r="11.5" fill="none" stroke="#222" stroke-width="3.4" stroke-dasharray="2.2,1.6"/>
<circle cx="215.5" cy="502.5" r="8.0" fill="none" stroke="#4a4a4a" stroke-width="1.2"/>
<line x1="135.5" y1="502.5" x2="295.5" y2="502.5" stroke="#303030" stroke-width="1.1" stroke-dasharray="22,3,2,3"/>
<line x1="215.5" y1="440.5" x2="215.5" y2="605.0" stroke="#4a4a4a" stroke-width="1.2" />
<line x1="206.5" y1="496.5" x2="224.5" y2="508.5" stroke="#222" stroke-width="1.6" />
<line x1="206.5" y1="508.5" x2="224.5" y2="496.5" stroke="#222" stroke-width="1.6" />
<line x1="212.5" y1="492.5" x2="218.5" y2="512.5" stroke="#4a4a4a" stroke-width="1.4" />
<line x1="212.5" y1="512.5" x2="218.5" y2="492.5" stroke="#4a4a4a" stroke-width="1.4" />
<circle cx="159.0" cy="450.5" r="4.6" fill="none" stroke="#4a4a4a" stroke-width="1.4"/>
<line x1="153.0" y1="450.5" x2="165.0" y2="450.5" stroke="#4a4a4a" stroke-width="1.0" />
<line x1="159.0" y1="444.5" x2="159.0" y2="456.5" stroke="#4a4a4a" stroke-width="1.0" />
<circle cx="273.4" cy="450.5" r="4.6" fill="none" stroke="#4a4a4a" stroke-width="1.4"/>
<line x1="267.4" y1="450.5" x2="279.4" y2="450.5" stroke="#4a4a4a" stroke-width="1.0" />
<line x1="273.4" y1="444.5" x2="273.4" y2="456.5" stroke="#4a4a4a" stroke-width="1.0" />
<circle cx="159.0" cy="552.0" r="4.6" fill="none" stroke="#4a4a4a" stroke-width="1.4"/>
<line x1="153.0" y1="552.0" x2="165.0" y2="552.0" stroke="#4a4a4a" stroke-width="1.0" />
<line x1="159.0" y1="546.0" x2="159.0" y2="558.0" stroke="#4a4a4a" stroke-width="1.0" />
<circle cx="273.4" cy="552.0" r="4.6" fill="none" stroke="#4a4a4a" stroke-width="1.4"/>
<line x1="267.4" y1="552.0" x2="279.4" y2="552.0" stroke="#4a4a4a" stroke-width="1.0" />
<line x1="273.4" y1="546.0" x2="273.4" y2="558.0" stroke="#4a4a4a" stroke-width="1.0" />
<circle cx="174.2" cy="460.2" r="6.0" fill="#262626" stroke="#4a4a4a" stroke-width="1.0"/>
<line x1="171.2" y1="460.2" x2="177.2" y2="460.2" stroke="#bbb" stroke-width="1.0" />
<line x1="174.2" y1="457.2" x2="174.2" y2="463.2" stroke="#bbb" stroke-width="1.0" />
<circle cx="258.9" cy="460.2" r="6.0" fill="#262626" stroke="#4a4a4a" stroke-width="1.0"/>
<line x1="255.9" y1="460.2" x2="261.9" y2="460.2" stroke="#bbb" stroke-width="1.0" />
<line x1="258.9" y1="457.2" x2="258.9" y2="463.2" stroke="#bbb" stroke-width="1.0" />
<circle cx="174.2" cy="544.8" r="6.0" fill="#262626" stroke="#4a4a4a" stroke-width="1.0"/>
<line x1="171.2" y1="544.8" x2="177.2" y2="544.8" stroke="#bbb" stroke-width="1.0" />
<line x1="174.2" y1="541.8" x2="174.2" y2="547.8" stroke="#bbb" stroke-width="1.0" />
<circle cx="258.9" cy="544.8" r="6.0" fill="#262626" stroke="#4a4a4a" stroke-width="1.0"/>
<line x1="255.9" y1="544.8" x2="261.9" y2="544.8" stroke="#bbb" stroke-width="1.0" />
<line x1="258.9" y1="541.8" x2="258.9" y2="547.8" stroke="#bbb" stroke-width="1.0" />
<circle cx="139.8" cy="502.5" r="6.0" fill="#262626" stroke="#4a4a4a" stroke-width="1.0"/>
<line x1="136.8" y1="502.5" x2="142.8" y2="502.5" stroke="#bbb" stroke-width="1.0" />
<line x1="139.8" y1="499.5" x2="139.8" y2="505.5" stroke="#bbb" stroke-width="1.0" />
<circle cx="293.0" cy="502.5" r="6.0" fill="#262626" stroke="#4a4a4a" stroke-width="1.0"/>
<line x1="290.0" y1="502.5" x2="296.0" y2="502.5" stroke="#bbb" stroke-width="1.0" />
<line x1="293.0" y1="499.5" x2="293.0" y2="505.5" stroke="#bbb" stroke-width="1.0" />
<circle cx="216.5" cy="448.0" r="5.2" fill="none" stroke="#4a4a4a" stroke-width="1.5"/>
<line x1="209.5" y1="448.0" x2="223.5" y2="448.0" stroke="#4a4a4a" stroke-width="1.0" />
<line x1="216.5" y1="441.0" x2="216.5" y2="455.0" stroke="#4a4a4a" stroke-width="1.0" />
<circle cx="216.5" cy="556.0" r="5.2" fill="none" stroke="#4a4a4a" stroke-width="1.5"/>
<line x1="209.5" y1="556.0" x2="223.5" y2="556.0" stroke="#4a4a4a" stroke-width="1.0" />
<line x1="216.5" y1="549.0" x2="216.5" y2="563.0" stroke="#4a4a4a" stroke-width="1.0" />
<circle cx="163.0" cy="501.5" r="5.2" fill="none" stroke="#4a4a4a" stroke-width="1.5"/>
<line x1="156.0" y1="501.5" x2="170.0" y2="501.5" stroke="#4a4a4a" stroke-width="1.0" />
<line x1="163.0" y1="494.5" x2="163.0" y2="508.5" stroke="#4a4a4a" stroke-width="1.0" />
<circle cx="271.0" cy="501.5" r="5.2" fill="none" stroke="#4a4a4a" stroke-width="1.5"/>
<line x1="264.0" y1="501.5" x2="278.0" y2="501.5" stroke="#4a4a4a" stroke-width="1.0" />
<line x1="271.0" y1="494.5" x2="271.0" y2="508.5" stroke="#4a4a4a" stroke-width="1.0" />
<circle cx="186.3" cy="472.3" r="4.6" fill="none" stroke="#4a4a4a" stroke-width="1.5"/>
<circle cx="186.3" cy="472.3" r="2.0" fill="none" stroke="#4a4a4a" stroke-width="1.1"/>
<circle cx="246.8" cy="472.3" r="4.6" fill="none" stroke="#4a4a4a" stroke-width="1.5"/>
<circle cx="246.8" cy="472.3" r="2.0" fill="none" stroke="#4a4a4a" stroke-width="1.1"/>
<circle cx="186.3" cy="531.7" r="4.6" fill="none" stroke="#4a4a4a" stroke-width="1.5"/>
<circle cx="186.3" cy="531.7" r="2.0" fill="none" stroke="#4a4a4a" stroke-width="1.1"/>
<circle cx="246.8" cy="531.7" r="4.6" fill="none" stroke="#4a4a4a" stroke-width="1.5"/>
<circle cx="246.8" cy="531.7" r="2.0" fill="none" stroke="#4a4a4a" stroke-width="1.1"/>
<line x1="123.0" y1="554.7" x2="151.2" y2="537.3" stroke="#4a4a4a" stroke-width="1.2" />
<line x1="151.2" y1="537.3" x2="266.0" y2="475.0" stroke="#4a4a4a" stroke-width="1.1" />
<polygon points="176.0,522.0 174.2,524.2 173.0,525.8 168.7,528.3 167.1,527.3 167.0,525.4 171.3,522.8 173.2,522.6" fill="#262626"/>
<polygon points="256.0,480.5 257.8,478.3 259.0,476.7 263.3,474.2 264.9,475.2 265.0,477.1 260.7,479.7 258.8,479.9" fill="#262626"/>
<line x1="198.4" y1="456.0" x2="241.0" y2="508.0" stroke="#4a4a4a" stroke-width="1.1" />
<line x1="241.0" y1="508.0" x2="304.4" y2="524.6" stroke="#4a4a4a" stroke-width="1.1" />
<line x1="150.0" y1="494.4" x2="252.3" y2="521.8" stroke="#4a4a4a" stroke-width="1.1" />
<line x1="252.3" y1="521.8" x2="304.4" y2="547.5" stroke="#4a4a4a" stroke-width="1.1" />
<polygon points="198.0,507.0 200.6,506.9 202.3,506.7 206.5,508.1 206.7,509.9 205.5,511.2 201.3,509.8 200.0,508.6" fill="#262626"/>
<polygon points="232.0,517.0 229.4,517.1 227.7,517.3 223.5,515.9 223.3,514.1 224.5,512.8 228.7,514.2 230.0,515.4" fill="#262626"/>
<line x1="113.2" y1="521.0" x2="120.8" y2="516.2" stroke="#4a4a4a" stroke-width="1.2" />
<line x1="120.8" y1="516.2" x2="146.0" y2="497.0" stroke="#222" stroke-width="1.6" />
<text x="75.5" y="517.8" textLength="25.0" lengthAdjust="spacingAndGlyphs" font-size="15.1" fill="#2a2a2a">6-M8</text>
<line x1="63.3" y1="521.0" x2="113.2" y2="521.0" stroke="#4a4a4a" stroke-width="1.3" />
<line x1="64.9" y1="523.0" x2="67.9" y2="523.0" stroke="#202020" stroke-width="1.5" />
<line x1="64.9" y1="523.0" x2="64.9" y2="531.5" stroke="#202020" stroke-width="1.5" />
<line x1="67.9" y1="523.0" x2="67.9" y2="531.5" stroke="#202020" stroke-width="1.5" />
<line x1="64.9" y1="527.0" x2="67.9" y2="527.0" stroke="#202020" stroke-width="1.5" />
<line x1="66.4" y1="522.0" x2="66.4" y2="533.5" stroke="#202020" stroke-width="1.5" />
<line x1="68.9" y1="523.0" x2="72.5" y2="523.0" stroke="#202020" stroke-width="1.5" />
<line x1="68.9" y1="526.0" x2="72.5" y2="526.0" stroke="#202020" stroke-width="1.5" />
<line x1="68.9" y1="523.0" x2="68.9" y2="526.0" stroke="#202020" stroke-width="1.5" />
<line x1="72.5" y1="523.0" x2="72.5" y2="526.0" stroke="#202020" stroke-width="1.5" />
<line x1="68.9" y1="529.0" x2="72.5" y2="528.0" stroke="#202020" stroke-width="1.5" />
<line x1="70.2" y1="527.0" x2="70.2" y2="533.5" stroke="#202020" stroke-width="1.5" />
<line x1="68.9" y1="532.5" x2="72.5" y2="531.5" stroke="#202020" stroke-width="1.5" />
<line x1="75.3" y1="522.0" x2="73.3" y2="526.0" stroke="#202020" stroke-width="1.5" />
<line x1="73.3" y1="526.0" x2="76.3" y2="528.0" stroke="#202020" stroke-width="1.5" />
<line x1="76.3" y1="528.0" x2="73.3" y2="531.0" stroke="#202020" stroke-width="1.5" />
<line x1="73.3" y1="532.5" x2="76.3" y2="531.5" stroke="#202020" stroke-width="1.5" />
<line x1="78.5" y1="522.0" x2="78.5" y2="524.0" stroke="#202020" stroke-width="1.5" />
<line x1="77.3" y1="525.0" x2="80.8" y2="525.0" stroke="#202020" stroke-width="1.5" />
<line x1="77.8" y1="526.0" x2="80.8" y2="533.5" stroke="#202020" stroke-width="1.5" />
<line x1="80.8" y1="526.0" x2="77.3" y2="533.5" stroke="#202020" stroke-width="1.5" />
<line x1="81.6" y1="524.5" x2="89.2" y2="524.5" stroke="#202020" stroke-width="1.5" />
<line x1="85.4" y1="522.0" x2="81.6" y2="533.5" stroke="#202020" stroke-width="1.5" />
<line x1="84.1" y1="527.0" x2="88.7" y2="527.0" stroke="#202020" stroke-width="1.5" />
<line x1="84.1" y1="527.0" x2="84.1" y2="533.5" stroke="#202020" stroke-width="1.5" />
<line x1="88.7" y1="527.0" x2="88.7" y2="533.5" stroke="#202020" stroke-width="1.5" />
<line x1="84.1" y1="529.5" x2="88.7" y2="529.5" stroke="#202020" stroke-width="1.5" />
<line x1="84.1" y1="532.5" x2="88.7" y2="532.5" stroke="#202020" stroke-width="1.5" />
<line x1="92.0" y1="522.0" x2="92.0" y2="524.0" stroke="#202020" stroke-width="1.5" />
<line x1="90.0" y1="524.5" x2="94.0" y2="524.5" stroke="#202020" stroke-width="1.5" />
<line x1="90.5" y1="526.0" x2="93.5" y2="530.0" stroke="#202020" stroke-width="1.5" />
<line x1="93.5" y1="526.0" x2="90.0" y2="533.5" stroke="#202020" stroke-width="1.5" />
<line x1="91.0" y1="528.0" x2="94.0" y2="533.5" stroke="#202020" stroke-width="1.5" />
<line x1="95.0" y1="522.0" x2="94.5" y2="526.0" stroke="#202020" stroke-width="1.5" />
<line x1="94.5" y1="525.0" x2="97.5" y2="525.0" stroke="#202020" stroke-width="1.5" />
<line x1="95.8" y1="525.0" x2="94.0" y2="533.5" stroke="#202020" stroke-width="1.5" />
<line x1="95.0" y1="527.0" x2="97.5" y2="533.5" stroke="#202020" stroke-width="1.5" />
<line x1="98.3" y1="523.0" x2="99.8" y2="524.5" stroke="#202020" stroke-width="1.5" />
<line x1="98.3" y1="526.5" x2="99.8" y2="528.0" stroke="#202020" stroke-width="1.5" />
<line x1="98.3" y1="533.5" x2="100.3" y2="529.0" stroke="#202020" stroke-width="1.5" />
<line x1="101.3" y1="523.0" x2="105.9" y2="523.0" stroke="#202020" stroke-width="1.5" />
<line x1="101.3" y1="523.0" x2="101.3" y2="526.0" stroke="#202020" stroke-width="1.5" />
<line x1="105.9" y1="523.0" x2="105.9" y2="526.0" stroke="#202020" stroke-width="1.5" />
<line x1="101.3" y1="527.5" x2="105.9" y2="527.5" stroke="#202020" stroke-width="1.5" />
<line x1="103.6" y1="526.0" x2="103.6" y2="533.5" stroke="#202020" stroke-width="1.5" />
<line x1="101.3" y1="532.5" x2="103.6" y2="529.0" stroke="#202020" stroke-width="1.5" />
<line x1="105.9" y1="532.5" x2="103.6" y2="529.0" stroke="#202020" stroke-width="1.5" />
<text x="106.7" y="533.5" textLength="6.5" lengthAdjust="spacingAndGlyphs" font-size="16.1" fill="#222" font-weight="bold">12</text>
<text x="72.5" y="551.0" textLength="41.7" lengthAdjust="spacingAndGlyphs" font-size="14.5" fill="#2a2a2a">Φ70± 0.1</text>
<line x1="73.0" y1="554.7" x2="123.0" y2="554.7" stroke="#4a4a4a" stroke-width="1.3" />
<text x="309.5" y="521.0" textLength="41.0" lengthAdjust="spacingAndGlyphs" font-size="15.8" fill="#2a2a2a">Φ50± 0.1</text>
<line x1="304.4" y1="524.6" x2="351.8" y2="524.6" stroke="#4a4a4a" stroke-width="1.3" />
<text x="309.5" y="544.0" textLength="41.0" lengthAdjust="spacingAndGlyphs" font-size="15.8" fill="#2a2a2a">Φ63± 0.1</text>
<line x1="304.4" y1="547.5" x2="351.8" y2="547.5" stroke="#4a4a4a" stroke-width="1.3" />
<line x1="284.0" y1="553.6" x2="371.0" y2="553.6" stroke="#4a4a4a" stroke-width="1.2" />
<line x1="240.0" y1="562.3" x2="389.5" y2="562.3" stroke="#4a4a4a" stroke-width="1.2" />
<line x1="367.8" y1="451.2" x2="367.8" y2="553.6" stroke="#4a4a4a" stroke-width="1.3" />
<polygon points="367.8,451.2 368.7,454.5 369.5,456.7 369.5,462.8 367.8,463.8 366.1,462.8 366.1,456.7 366.9,454.5" fill="#262626"/>
<polygon points="367.8,553.6 366.9,550.3 366.1,548.1 366.1,542.1 367.8,541.0 369.5,542.1 369.5,548.1 368.7,550.3" fill="#262626"/>
<text transform="translate(366.6,521.3) rotate(-90)" x="0" y="0" textLength="32.6" lengthAdjust="spacingAndGlyphs" font-size="10.6" fill="#2a2a2a">60± 0.1</text>
<line x1="384.8" y1="441.4" x2="384.8" y2="562.3" stroke="#4a4a4a" stroke-width="1.3" />
<polygon points="384.8,441.4 385.7,444.7 386.5,446.9 386.5,452.9 384.8,454.0 383.1,452.9 383.1,446.9 383.9,444.7" fill="#262626"/>
<polygon points="384.8,562.3 383.9,559.0 383.1,556.8 383.1,550.8 384.8,549.6 386.5,550.8 386.5,556.8 385.7,559.0" fill="#262626"/>
<text transform="translate(383.0,509.5) rotate(-90)" x="0" y="0" textLength="14.5" lengthAdjust="spacingAndGlyphs" font-size="10.5" fill="#2a2a2a">72</text>
<line x1="128.0" y1="563.0" x2="304.4" y2="563.0" stroke="#4a4a4a" stroke-width="1.2" />
<line x1="172.6" y1="563.0" x2="172.6" y2="575.5" stroke="#4a4a4a" stroke-width="1.2" />
<line x1="260.2" y1="563.0" x2="260.2" y2="575.5" stroke="#4a4a4a" stroke-width="1.2" />
<line x1="147.0" y1="575.0" x2="151.0" y2="563.0" stroke="#4a4a4a" stroke-width="1.2" />
<line x1="286.0" y1="575.0" x2="282.0" y2="563.0" stroke="#4a4a4a" stroke-width="1.2" />
<rect x="187.3" y="563.0" width="20.1" height="10.6" rx="0" fill="none" stroke="#4a4a4a" stroke-width="1.3"/>
<rect x="226.0" y="563.0" width="19.4" height="10.6" rx="0" fill="none" stroke="#4a4a4a" stroke-width="1.3"/>
<line x1="192.0" y1="563.0" x2="192.0" y2="573.6" stroke="#4a4a4a" stroke-width="1.0" />
<line x1="197.0" y1="563.0" x2="197.0" y2="573.6" stroke="#4a4a4a" stroke-width="1.0" />
<line x1="202.0" y1="563.0" x2="202.0" y2="573.6" stroke="#4a4a4a" stroke-width="1.0" />
<line x1="231.0" y1="563.0" x2="231.0" y2="573.6" stroke="#4a4a4a" stroke-width="1.0" />
<line x1="236.0" y1="563.0" x2="236.0" y2="573.6" stroke="#4a4a4a" stroke-width="1.0" />
<line x1="241.0" y1="563.0" x2="241.0" y2="573.6" stroke="#4a4a4a" stroke-width="1.0" />
<line x1="197.0" y1="573.6" x2="197.0" y2="578.0" stroke="#4a4a4a" stroke-width="1.0" />
<line x1="236.0" y1="573.6" x2="236.0" y2="578.0" stroke="#4a4a4a" stroke-width="1.0" />
<line x1="196.4" y1="527.0" x2="196.4" y2="563.0" stroke="#4a4a4a" stroke-width="1.0" />
<line x1="234.7" y1="527.0" x2="234.7" y2="563.0" stroke="#4a4a4a" stroke-width="1.0" />
<line x1="196.4" y1="527.0" x2="201.0" y2="527.0" stroke="#4a4a4a" stroke-width="1.0" />
<line x1="234.7" y1="527.0" x2="230.0" y2="527.0" stroke="#4a4a4a" stroke-width="1.0" />
<path d="M147.3,575.5 A99,99 0 0 0 284,575.5" fill="none" stroke="#4a4a4a" stroke-width="1.3" />
<polygon points="147.3,575.5 149.9,576.7 151.7,577.4 155.3,580.8 154.8,582.7 152.9,583.3 149.4,579.8 148.6,578.0" fill="#262626"/>
<polygon points="284.0,575.5 282.7,578.0 281.9,579.8 278.4,583.3 276.5,582.7 276.0,580.8 279.6,577.4 281.4,576.7" fill="#262626"/>
<polygon points="211.0,601.3 208.6,602.2 207.0,602.9 202.6,602.9 201.8,601.3 202.6,599.7 207.0,599.7 208.6,600.4" fill="#262626"/>
<polygon points="221.0,601.3 223.4,600.4 225.0,599.7 229.4,599.7 230.2,601.3 229.4,602.9 225.0,602.9 223.4,602.2" fill="#262626"/>
<text transform="translate(178.7,588.3) rotate(35) scale(0.72,1)" text-anchor="middle" font-size="14" fill="#2e2e2e">45°</text>
<text transform="translate(251.1,589.1) rotate(-35) scale(0.72,1)" text-anchor="middle" font-size="14" fill="#2e2e2e">45°</text>
<line x1="616.3" y1="410.7" x2="715.0" y2="410.7" stroke="#4a4a4a" stroke-width="1.2" />
<line x1="620.6" y1="410.7" x2="620.6" y2="487.2" stroke="#4a4a4a" stroke-width="1.3" />
<polygon points="620.6,410.7 621.5,414.0 622.3,416.2 622.3,422.2 620.6,423.3 618.9,422.2 618.9,416.2 619.7,414.0" fill="#262626"/>
<polygon points="620.6,487.2 619.7,483.9 618.9,481.7 618.9,475.6 620.6,474.6 622.3,475.6 622.3,481.7 621.5,483.9" fill="#262626"/>
<text transform="translate(617.0,455.5) rotate(-90)" x="0" y="0" textLength="12.0" lengthAdjust="spacingAndGlyphs" font-size="16.2" fill="#2a2a2a">43</text>
<line x1="620.6" y1="487.2" x2="620.6" y2="599.3" stroke="#4a4a4a" stroke-width="1.3" />
<polygon points="620.6,487.2 621.5,490.5 622.3,492.7 622.3,498.8 620.6,499.8 618.9,498.8 618.9,492.7 619.7,490.5" fill="#262626"/>
<polygon points="620.6,599.3 619.7,596.0 618.9,593.8 618.9,587.8 620.6,586.6 622.3,587.8 622.3,593.8 621.5,596.0" fill="#262626"/>
<text transform="translate(617.0,555.0) rotate(-90)" x="0" y="0" textLength="20.7" lengthAdjust="spacingAndGlyphs" font-size="16.2" fill="#2a2a2a">63.5</text>
<line x1="616.3" y1="599.3" x2="840.0" y2="599.3" stroke="#4a4a4a" stroke-width="1.2" />
<path d="M717,392 L892.7,392 A5.5,5.5 0 0 1 892.7,403 L717,403 A5.5,5.5 0 0 1 717,392 Z" fill="none" stroke="#4a4a4a" stroke-width="1.35" />
<path d="M719,395.1 A2.8,2.8 0 0 0 719,400.8" fill="none" stroke="#4a4a4a" stroke-width="1.0" />
<line x1="717.0" y1="395.1" x2="841.0" y2="395.1" stroke="#4a4a4a" stroke-width="1.0" />
<line x1="717.0" y1="400.8" x2="841.0" y2="400.8" stroke="#4a4a4a" stroke-width="1.1" />
<line x1="778.7" y1="392.0" x2="778.7" y2="410.9" stroke="#4a4a4a" stroke-width="1.2" />
<line x1="791.9" y1="392.0" x2="791.9" y2="410.9" stroke="#4a4a4a" stroke-width="1.2" />
<line x1="816.5" y1="392.0" x2="816.5" y2="410.9" stroke="#4a4a4a" stroke-width="1.2" />
<line x1="831.6" y1="392.0" x2="831.6" y2="410.9" stroke="#4a4a4a" stroke-width="1.2" />
<line x1="791.9" y1="403.3" x2="816.5" y2="403.3" stroke="#4a4a4a" stroke-width="1.1" />
<line x1="791.9" y1="409.6" x2="816.5" y2="409.6" stroke="#4a4a4a" stroke-width="1.8" />
<path d="M845,376.4 L877.5,376.4 L881.3,388.3 L841.2,388.3 Z" fill="none" stroke="#4a4a4a" stroke-width="1.35" />
<line x1="861.6" y1="376.4" x2="861.6" y2="392.0" stroke="#4a4a4a" stroke-width="1.1" />
<path d="M842,388.3 L882.5,388.3 A1.9,1.9 0 0 1 882.5,392.1 L842,392.1 A1.9,1.9 0 0 1 842,388.3 Z" fill="none" stroke="#4a4a4a" stroke-width="1.2" />
<line x1="843.3" y1="393.8" x2="879.7" y2="393.8" stroke="#4a4a4a" stroke-width="1.2" />
<line x1="843.3" y1="397.6" x2="879.7" y2="397.6" stroke="#4a4a4a" stroke-width="1.2" />
<line x1="843.3" y1="401.4" x2="879.7" y2="401.4" stroke="#4a4a4a" stroke-width="1.2" />
<line x1="843.3" y1="404.6" x2="879.7" y2="404.6" stroke="#4a4a4a" stroke-width="1.2" />
<line x1="843.3" y1="392.0" x2="843.3" y2="406.0" stroke="#4a4a4a" stroke-width="1.0" />
<line x1="879.7" y1="392.0" x2="879.7" y2="406.0" stroke="#4a4a4a" stroke-width="1.0" />
<line x1="836.0" y1="406.5" x2="883.0" y2="406.5" stroke="#4a4a4a" stroke-width="1.2" />
<line x1="836.0" y1="409.0" x2="883.0" y2="409.0" stroke="#4a4a4a" stroke-width="1.0" />
<path d="M766.5,410.9 Q767,403.5 771.8,403.5 Q776.5,403.5 777,410.9 Z" fill="none" stroke="#4a4a4a" stroke-width="1.3" />
<line x1="771.8" y1="410.9" x2="771.8" y2="415.3" stroke="#4a4a4a" stroke-width="1.1" />
<line x1="760.0" y1="410.0" x2="777.0" y2="410.0" stroke="#4a4a4a" stroke-width="1.8" />
<path d="M831,410.9 Q832,403.5 836.3,403.5 Q840.5,403.5 841,410.9 Z" fill="none" stroke="#4a4a4a" stroke-width="1.3" />
<line x1="836.3" y1="410.9" x2="836.3" y2="415.3" stroke="#4a4a4a" stroke-width="1.1" />
<path d="M860,410.9 Q866,407 878,407 L883,410.9" fill="none" stroke="#4a4a4a" stroke-width="1.0" />
<line x1="633.6" y1="410.7" x2="912.8" y2="410.7" stroke="#4a4a4a" stroke-width="1.5" />
<line x1="634.0" y1="410.7" x2="634.0" y2="600.0" stroke="#4a4a4a" stroke-width="1.6" />
<line x1="636.4" y1="429.3" x2="636.4" y2="537.0" stroke="#4a4a4a" stroke-width="1.2" />
<line x1="715.0" y1="410.7" x2="715.0" y2="537.9" stroke="#4a4a4a" stroke-width="1.35" />
<line x1="671.6" y1="410.7" x2="671.6" y2="429.3" stroke="#4a4a4a" stroke-width="1.35" />
<line x1="634.0" y1="429.3" x2="715.0" y2="429.3" stroke="#4a4a4a" stroke-width="1.35" />
<line x1="880.6" y1="410.7" x2="880.6" y2="558.0" stroke="#4a4a4a" stroke-width="1.35" />
<line x1="883.1" y1="410.7" x2="883.1" y2="558.0" stroke="#4a4a4a" stroke-width="1.35" />
<line x1="634.0" y1="537.5" x2="880.6" y2="537.5" stroke="#4a4a4a" stroke-width="1.35" />
<line x1="634.0" y1="558.8" x2="882.3" y2="558.8" stroke="#4a4a4a" stroke-width="1.35" />
<line x1="634.0" y1="583.5" x2="882.3" y2="583.5" stroke="#4a4a4a" stroke-width="1.35" />
<line x1="882.3" y1="558.8" x2="882.3" y2="590.0" stroke="#4a4a4a" stroke-width="1.35" />
<path d="M882.3,590 Q882.3,592.5 879,592.5" fill="none" stroke="#4a4a4a" stroke-width="1.35" />
<line x1="652.9" y1="592.3" x2="879.0" y2="592.3" stroke="#4a4a4a" stroke-width="1.35" />
<line x1="635.9" y1="583.5" x2="652.9" y2="592.3" stroke="#4a4a4a" stroke-width="1.2" />
<line x1="682.4" y1="595.0" x2="845.6" y2="595.0" stroke="#555" stroke-width="2.2" />
<line x1="802.0" y1="592.3" x2="802.0" y2="598.9" stroke="#4a4a4a" stroke-width="1.0" />
<line x1="819.2" y1="592.3" x2="819.2" y2="598.9" stroke="#4a4a4a" stroke-width="1.0" />
<line x1="682.4" y1="598.9" x2="845.6" y2="598.9" stroke="#4a4a4a" stroke-width="1.1" />
<line x1="745.2" y1="537.5" x2="745.2" y2="583.5" stroke="#4a4a4a" stroke-width="1.1" />
<line x1="862.7" y1="583.5" x2="862.7" y2="592.3" stroke="#4a4a4a" stroke-width="1.1" />
<path d="M867,558.8 L867,561.5 L882.3,561.5" fill="none" stroke="#4a4a4a" stroke-width="1.0" />
<rect x="634.0" y="558.8" width="16.6" height="3.0" rx="0" fill="none" stroke="#4a4a4a" stroke-width="1.0"/>
<line x1="883.1" y1="556.2" x2="912.1" y2="556.2" stroke="#4a4a4a" stroke-width="1.2" />
<rect x="883.1" y="547.0" width="4.4" height="9.2" rx="0" fill="none" stroke="#4a4a4a" stroke-width="1.0"/>
<rect x="883.1" y="410.7" width="4.4" height="9.3" rx="0" fill="none" stroke="#4a4a4a" stroke-width="1.0"/>
<rect x="899.3" y="411.2" width="8.5" height="17.6" rx="2" fill="none" stroke="#4a4a4a" stroke-width="1.1"/>
<path d="M900.7,414 Q907.7,414 907.7,420 Q907.7,426 900.7,426 Z" fill="none" stroke="#4a4a4a" stroke-width="1.3" />
<line x1="901.7" y1="414.0" x2="901.7" y2="426.0" stroke="#222" stroke-width="1.6" />
<line x1="887.5" y1="420.0" x2="899.3" y2="420.0" stroke="#4a4a4a" stroke-width="1.1" />
<rect x="899.3" y="538.9" width="8.5" height="17.6" rx="2" fill="none" stroke="#4a4a4a" stroke-width="1.1"/>
<path d="M900.7,541.7 Q907.7,541.7 907.7,547.7 Q907.7,553.7 900.7,553.7 Z" fill="none" stroke="#4a4a4a" stroke-width="1.3" />
<line x1="901.7" y1="541.7" x2="901.7" y2="553.7" stroke="#222" stroke-width="1.6" />
<line x1="887.5" y1="547.7" x2="899.3" y2="547.7" stroke="#4a4a4a" stroke-width="1.1" />
<line x1="912.1" y1="410.7" x2="912.1" y2="625.0" stroke="#4a4a4a" stroke-width="1.2" />
<path d="M636.4,442.4 L652,442.4 L656,443.4 L715,443.4" fill="none" stroke="#4a4a4a" stroke-width="1.7" />
<path d="M636.4,449.8 L652,449.8 L656,448.8 L715,448.8" fill="none" stroke="#4a4a4a" stroke-width="1.7" />
<line x1="655.0" y1="446.1" x2="715.0" y2="446.1" stroke="#4a4a4a" stroke-width="1.1" stroke-dasharray="10,2,3,2"/>
<path d="M636.4,462 L652,462 L656,463 L715,463" fill="none" stroke="#4a4a4a" stroke-width="1.7" />
<path d="M636.4,468.3 L652,468.3 L656,467.3 L715,467.3" fill="none" stroke="#4a4a4a" stroke-width="1.7" />
<line x1="655.0" y1="465.1" x2="715.0" y2="465.1" stroke="#4a4a4a" stroke-width="1.1" stroke-dasharray="10,2,3,2"/>
<path d="M636.4,482.5 L652,482.5 L656,483.5 L715,483.5" fill="none" stroke="#4a4a4a" stroke-width="1.7" />
<path d="M636.4,490 L652,490 L656,489 L715,489" fill="none" stroke="#4a4a4a" stroke-width="1.7" />
<line x1="655.0" y1="486.2" x2="715.0" y2="486.2" stroke="#4a4a4a" stroke-width="1.1" stroke-dasharray="10,2,3,2"/>
<path d="M636.4,502 L652,502 L656,503 L715,503" fill="none" stroke="#4a4a4a" stroke-width="1.7" />
<path d="M636.4,509.5 L652,509.5 L656,508.5 L715,508.5" fill="none" stroke="#4a4a4a" stroke-width="1.7" />
<line x1="655.0" y1="505.8" x2="715.0" y2="505.8" stroke="#4a4a4a" stroke-width="1.1" stroke-dasharray="10,2,3,2"/>
<path d="M636.4,520.5 L652,520.5 L656,521.5 L715,521.5" fill="none" stroke="#4a4a4a" stroke-width="1.7" />
<path d="M636.4,529 L652,529 L656,528 L715,528" fill="none" stroke="#4a4a4a" stroke-width="1.7" />
<line x1="655.0" y1="524.8" x2="715.0" y2="524.8" stroke="#4a4a4a" stroke-width="1.1" stroke-dasharray="10,2,3,2"/>
<circle cx="788.6" cy="486.7" r="42.8" fill="none" stroke="#4a4a4a" stroke-width="1.5"/>
<circle cx="788.6" cy="486.7" r="38.0" fill="none" stroke="#4a4a4a" stroke-width="1.4"/>
<circle cx="788.6" cy="486.7" r="28.0" fill="none" stroke="#333" stroke-width="3.2" stroke-dasharray="1.4,1.9"/>
<circle cx="788.6" cy="486.7" r="25.5" fill="none" stroke="#4a4a4a" stroke-width="1.5"/>
<circle cx="788.6" cy="486.7" r="23.0" fill="none" stroke="#4a4a4a" stroke-width="1.1"/>
<rect x="783.6" y="465.7" width="10.0" height="4.0" rx="0" fill="#333" stroke="#4a4a4a" stroke-width="1.0"/>
<rect x="783.6" y="503.7" width="10.0" height="4.0" rx="0" fill="#333" stroke="#4a4a4a" stroke-width="1.0"/>
<rect x="767.6" y="479.7" width="4.0" height="14.0" rx="0" fill="#333" stroke="#4a4a4a" stroke-width="1.0"/>
<rect x="805.6" y="479.7" width="4.0" height="14.0" rx="0" fill="#333" stroke="#4a4a4a" stroke-width="1.0"/>
<line x1="616.0" y1="486.7" x2="915.0" y2="486.7" stroke="#303030" stroke-width="1.2" stroke-dasharray="22,3,3,3"/>
<line x1="788.6" y1="440.0" x2="788.6" y2="625.0" stroke="#4a4a4a" stroke-width="1.2" />
<circle cx="788.6" cy="447.7" r="5.3" fill="none" stroke="#4a4a4a" stroke-width="1.1"/>
<line x1="784.6" y1="447.7" x2="792.6" y2="447.7" stroke="#222" stroke-width="1.8" />
<line x1="788.6" y1="443.7" x2="788.6" y2="451.7" stroke="#222" stroke-width="1.8" />
<circle cx="756.0" cy="504.4" r="5.3" fill="none" stroke="#4a4a4a" stroke-width="1.1"/>
<line x1="752.0" y1="504.4" x2="760.0" y2="504.4" stroke="#222" stroke-width="1.8" />
<line x1="756.0" y1="500.4" x2="756.0" y2="508.4" stroke="#222" stroke-width="1.8" />
<circle cx="821.0" cy="504.4" r="5.3" fill="none" stroke="#4a4a4a" stroke-width="1.1"/>
<line x1="817.0" y1="504.4" x2="825.0" y2="504.4" stroke="#222" stroke-width="1.8" />
<line x1="821.0" y1="500.4" x2="821.0" y2="508.4" stroke="#222" stroke-width="1.8" />
<circle cx="725.1" cy="421.3" r="6.5" fill="none" stroke="#4a4a4a" stroke-width="1.1"/>
<line x1="720.2" y1="421.3" x2="730.0" y2="421.3" stroke="#222" stroke-width="1.8" />
<line x1="725.1" y1="416.4" x2="725.1" y2="426.2" stroke="#222" stroke-width="1.8" />
<circle cx="871.6" cy="421.3" r="6.5" fill="none" stroke="#4a4a4a" stroke-width="1.1"/>
<line x1="866.7" y1="421.3" x2="876.5" y2="421.3" stroke="#222" stroke-width="1.8" />
<line x1="871.6" y1="416.4" x2="871.6" y2="426.2" stroke="#222" stroke-width="1.8" />
<circle cx="724.5" cy="528.5" r="6.5" fill="none" stroke="#4a4a4a" stroke-width="1.1"/>
<line x1="719.6" y1="528.5" x2="729.4" y2="528.5" stroke="#222" stroke-width="1.8" />
<line x1="724.5" y1="523.6" x2="724.5" y2="533.4" stroke="#222" stroke-width="1.8" />
<circle cx="871.6" cy="528.5" r="6.5" fill="none" stroke="#4a4a4a" stroke-width="1.1"/>
<line x1="866.7" y1="528.5" x2="876.5" y2="528.5" stroke="#222" stroke-width="1.8" />
<line x1="871.6" y1="523.6" x2="871.6" y2="533.4" stroke="#222" stroke-width="1.8" />
<path d="M715,429 Q730,428.5 734.3,423 L734.6,411" fill="none" stroke="#4a4a4a" stroke-width="1.2" />
<path d="M880.6,429 Q866,428.5 862,423 L861.7,411" fill="none" stroke="#4a4a4a" stroke-width="1.2" />
<path d="M715,520.5 Q730,521 734.3,527 L734.6,537.5" fill="none" stroke="#4a4a4a" stroke-width="1.2" />
<path d="M880.6,520.5 Q866,521 862,527 L861.7,537.5" fill="none" stroke="#4a4a4a" stroke-width="1.2" />
<rect x="634.0" y="572.4" width="19.0" height="11.1" rx="0" fill="none" stroke="#4a4a4a" stroke-width="1.2"/>
<rect x="637.5" y="575.1" width="12.0" height="5.0" rx="2" fill="none" stroke="#4a4a4a" stroke-width="1.6"/>
<line x1="643.5" y1="558.8" x2="643.5" y2="572.4" stroke="#4a4a4a" stroke-width="1.1" />
<rect x="726.0" y="572.4" width="19.0" height="11.1" rx="0" fill="none" stroke="#4a4a4a" stroke-width="1.2"/>
<rect x="729.5" y="575.1" width="12.0" height="5.0" rx="2" fill="none" stroke="#4a4a4a" stroke-width="1.6"/>
<line x1="735.5" y1="558.8" x2="735.5" y2="572.4" stroke="#4a4a4a" stroke-width="1.1" />
<rect x="834.4" y="572.4" width="19.0" height="11.1" rx="0" fill="none" stroke="#4a4a4a" stroke-width="1.2"/>
<rect x="837.9" y="575.1" width="12.0" height="5.0" rx="2" fill="none" stroke="#4a4a4a" stroke-width="1.6"/>
<line x1="843.9" y1="558.8" x2="843.9" y2="572.4" stroke="#4a4a4a" stroke-width="1.1" />
<line x1="633.6" y1="595.0" x2="633.6" y2="625.0" stroke="#4a4a4a" stroke-width="1.2" />
<line x1="633.6" y1="622.3" x2="788.6" y2="622.3" stroke="#4a4a4a" stroke-width="1.3" />
<polygon points="633.6,622.3 636.9,621.4 639.1,620.6 645.1,620.6 646.2,622.3 645.1,624.0 639.1,624.0 636.9,623.2" fill="#262626"/>
<polygon points="788.6,622.3 785.3,623.2 783.1,624.0 777.1,624.0 776.0,622.3 777.1,620.6 783.1,620.6 785.3,621.4" fill="#262626"/>
<line x1="788.6" y1="622.3" x2="912.8" y2="622.3" stroke="#4a4a4a" stroke-width="1.3" />
<polygon points="788.6,622.3 791.9,621.4 794.1,620.6 800.1,620.6 801.2,622.3 800.1,624.0 794.1,624.0 791.9,623.2" fill="#262626"/>
<polygon points="912.8,622.3 909.5,623.2 907.3,624.0 901.2,624.0 900.1,622.3 901.2,620.6 907.3,620.6 909.5,621.4" fill="#262626"/>
<text x="703.5" y="618.5" textLength="14.0" lengthAdjust="spacingAndGlyphs" font-size="17.0" fill="#2a2a2a">87</text>
<text x="838.6" y="618.5" textLength="21.9" lengthAdjust="spacingAndGlyphs" font-size="17.0" fill="#2a2a2a">69.5</text>
</svg></div></body></html>
